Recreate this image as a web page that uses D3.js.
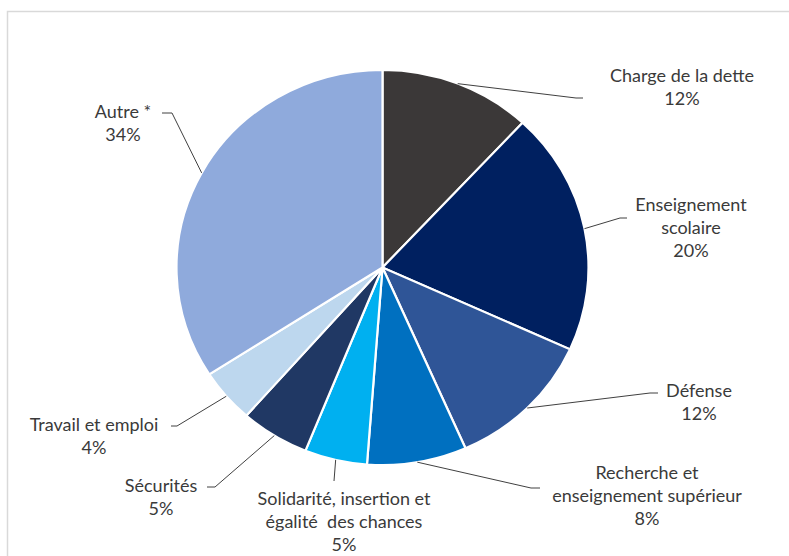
<!DOCTYPE html>
<html>
<head>
<meta charset="utf-8">
<script src="https://cdn.jsdelivr.net/npm/d3@7"></script>
<style>
  body { margin: 0; background: #fff; }
  svg text { font-family: Lato, "Open Sans", sans-serif; font-size: 18px; fill: #3a3a3a; }
</style>
</head>
<body>
<svg id="chart" width="789" height="556"></svg>
<script>
var CATEGORIES = [
  ["Charge de la dette"],
  ["Enseignement", "scolaire"],
  ["Défense"],
  ["Recherche et", "enseignement supérieur"],
  ["Solidarité, insertion et", "égalité  des chances"],
  ["Sécurités"],
  ["Travail et emploi"],
  ["Autre *"]
];
var VALUES = [11.9, 19.9, 11.6, 7.8, 4.9, 5.4, 4.4, 34.1];
var PCT_LABELS = ["12%", "20%", "12%", "8%", "5%", "5%", "4%", "34%"];
var COLORS = ["#3b3838", "#002060", "#2f5597", "#0070c0", "#00b0f0", "#203864", "#bdd7ee", "#8faadc"];

// label layout: centre x, first baseline, leader elbow and end
var LAYOUT = [
  { x: 682, y: 82,  elbow: [576, 98],  end: [583, 98] },
  { x: 691, y: 211, elbow: [620, 218], end: [627, 218] },
  { x: 699, y: 397, elbow: [650, 393], end: [658, 393] },
  { x: 647, y: 479, elbow: [531, 488], end: [540, 488] },
  { x: 344, y: 505, elbow: [334, 481], end: [334, 481] },
  { x: 161, y: 492, elbow: [215, 487], end: [207, 487] },
  { x: 94,  y: 431, elbow: [177, 426], end: [171, 426] },
  { x: 123, y: 118, elbow: [172, 113], end: [162, 113] }
];

document.addEventListener("DOMContentLoaded", function() {
  drawPie();
});

function drawPie() {
  var svg = d3.select("#chart");
  var cx = 382.5, cy = 267.5, rx = 206, ry = 197.5;
  var lineH = 22.8;

  svg.append("rect")
    .attr("x", 7.5).attr("y", 11.5)
    .attr("width", 820).attr("height", 600)
    .attr("fill", "none")
    .attr("stroke", "#d9d9d9")
    .attr("stroke-width", 1.5);

  var data = VALUES.map(function(v, i) { return { value: v, index: i }; });

  var pie = d3.pie()
    .sort(null)
    .value(function(d) { return d.value; });

  var arc = d3.arc()
    .outerRadius(rx)
    .innerRadius(0);

  var arcs = pie(data);

  var g = svg.append("g")
    .attr("transform", "translate(" + cx + "," + cy + ") scale(1," + (ry / rx) + ")");

  g.selectAll(".slice")
    .data(arcs)
    .enter()
    .append("path")
    .attr("class", "slice")
    .attr("d", arc)
    .attr("fill", function(d) { return COLORS[d.data.index]; })
    .attr("stroke", "#fff")
    .attr("stroke-width", 2.2);

  // leader lines
  arcs.forEach(function(d, i) {
    var a = (d.startAngle + d.endAngle) / 2;
    var start = [cx + rx * Math.sin(a), cy - ry * Math.cos(a)];
    var L = LAYOUT[i];
    svg.append("path")
      .attr("d", d3.line()([start, L.elbow, L.end]))
      .attr("fill", "none")
      .attr("stroke", "#404040")
      .attr("stroke-width", 1);
  });

  // labels
  arcs.forEach(function(d, i) {
    var L = LAYOUT[i];
    var lines = CATEGORIES[i].concat([PCT_LABELS[i]]);
    var t = svg.append("text")
      .attr("text-anchor", "middle")
      .attr("x", L.x)
      .attr("y", L.y);
    lines.forEach(function(s, k) {
      t.append("tspan")
        .attr("x", L.x)
        .attr("y", L.y + k * lineH)
        .attr("xml:space", "preserve")
        .text(s);
    });
  });
}
</script>
</body>
</html>
